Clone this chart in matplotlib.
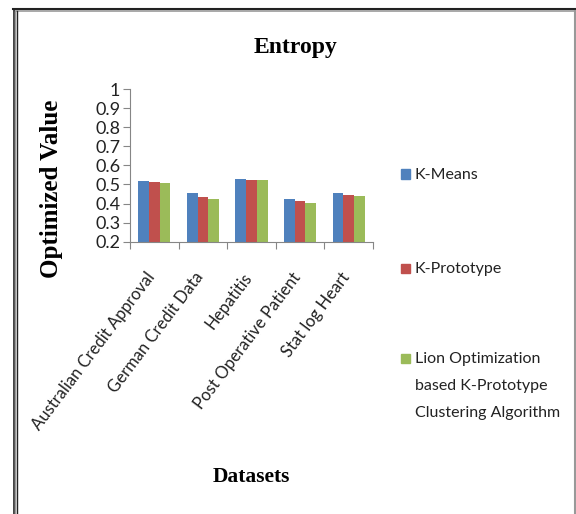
import numpy as np
import matplotlib.pyplot as plt
from matplotlib.lines import Line2D
from matplotlib.patches import Rectangle

# Entropy per dataset for each clustering method
datasets = ["Australian Credit Approval", "German Credit Data", "Hepatitis",
            "Post Operative Patient", "Stat log Heart"]
kmeans = [0.519, 0.456, 0.530, 0.426, 0.453]
kproto = [0.512, 0.435, 0.524, 0.414, 0.447]
lion = [0.507, 0.425, 0.524, 0.403, 0.437]

series_names = ["K-Means", "K-Prototype",
                "Lion Optimization\nbased K-Prototype\nClustering Algorithm"]
colors = ["#4F81BD", "#C0504D", "#9BBB59"]
yticks = [0.2, 0.3, 0.4, 0.5, 0.6, 0.7, 0.8, 0.9, 1.0]

W, H = 576, 514
fig = plt.figure(figsize=(W / 100, H / 100), dpi=100)
ax = fig.add_axes([130 / W, 1 - 241.7 / H, 243 / W, 152.7 / H])

x = np.arange(len(datasets)) + 0.5
bw = 0.222
for i, (vals, c) in enumerate(zip([kmeans, kproto, lion], colors)):
    ax.bar(x + (i - 1) * bw, vals, width=bw, color=c, edgecolor="none")

ax.set_xlim(0, len(datasets))
ax.set_ylim(0.2, 1.0)
ax.set_yticks(yticks)
ax.set_yticklabels([f"{v:g}" for v in yticks], family="Lato", fontsize=13,
                   color="#222222")
ax.set_xticks(np.arange(len(datasets) + 1))
ax.set_xticklabels([])
ax.set_xticks(x + 0.08, minor=True)
ax.set_xticklabels(datasets, minor=True, rotation=53, ha="right", va="top",
                   family="Lato", fontsize=12, color="#222222")
ax.tick_params(axis="x", which="minor", length=0, pad=20)
ax.tick_params(axis="x", which="major", length=5, color="#868686", direction="out")
ax.tick_params(axis="y", length=5, color="#868686", pad=2)
for s in ["top", "right"]:
    ax.spines[s].set_visible(False)
for s in ["left", "bottom"]:
    ax.spines[s].set_color("#868686")

fig.text(296 / W, 1 - 47 / H, "Entropy", ha="center", va="center",
         family="Liberation Serif", weight="bold", fontsize=17)
fig.text(251 / W, 1 - 477 / H, "Datasets", ha="center", va="center",
         family="Liberation Serif", weight="bold", fontsize=15.5)
fig.text(52 / W, 1 - 189 / H, "Optimized Value", ha="center", va="center",
         rotation=90, family="Liberation Serif", weight="bold", fontsize=18)

# legend drawn by hand so the swatch sits on the first text line
legend_y = [174, 268, 358]
for name, c, ly in zip(series_names, colors, legend_y):
    fig.add_artist(Rectangle((401 / W, 1 - (ly + 4.5) / H), 9 / W, 9 / H,
                             transform=fig.transFigure, color=c))
    fig.text(415 / W, 1 - (ly - 6) / H, name, ha="left", va="top",
             family="Lato", fontsize=11.5, color="#222222", linespacing=2.2)

# outer frame
def hline(y, x0, x1, color, lw):
    fig.add_artist(Line2D([x0 / W, x1 / W], [1 - y / H, 1 - y / H],
                          transform=fig.transFigure, color=color, lw=lw))

def vline(xp, y0, y1, color, lw):
    fig.add_artist(Line2D([xp / W, xp / W], [1 - y0 / H, 1 - y1 / H],
                          transform=fig.transFigure, color=color, lw=lw))

hline(9, 13, W, "#222222", 1.5)
hline(11, 15, W, "#999999", 1.2)
vline(13.5, 9, H, "#222222", 1.2)
vline(15, 11, H, "#999999", 1.0)
vline(16.5, 11, H, "#222222", 1.0)
vline(574.5, 11, H, "#999999", 1.5)

fig.savefig("out.png", dpi=100)
